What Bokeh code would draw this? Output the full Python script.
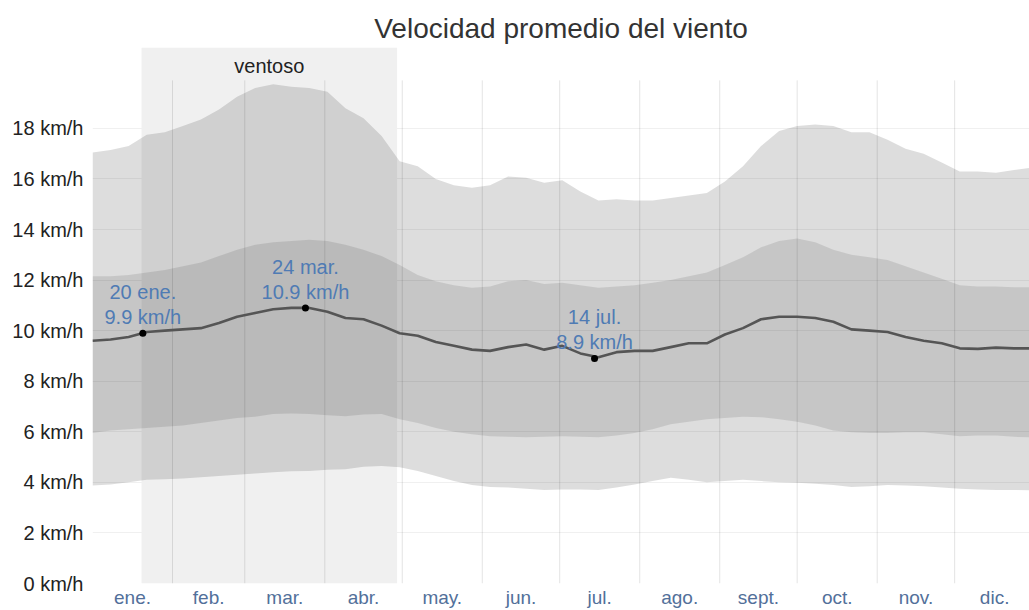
from bokeh.plotting import figure
from bokeh.models import (ColumnDataSource, FixedTicker, BoxAnnotation, Label, Range1d)
from bokeh.core.properties import value
from bokeh.embed import file_html
from bokeh.resources import INLINE

# ---------------- data ----------------
days = [0, 7, 14, 21, 28, 35, 42, 49, 56, 63, 70, 77, 84, 91, 98, 105, 112, 119,
        126, 133, 140, 147, 154, 161, 168, 175, 182, 189, 196, 203, 210, 217, 224,
        231, 238, 245, 252, 259, 266, 273, 280, 287, 294, 301, 308, 315, 322, 329,
        336, 343, 350, 357, 364]

p90 = [17.05, 17.15, 17.3, 17.75, 17.85, 18.1, 18.35, 18.75, 19.25, 19.6, 19.75,
       19.65, 19.6, 19.45, 18.8, 18.4, 17.7, 16.7, 16.5, 16.0, 15.75, 15.65, 15.75,
       16.1, 16.05, 15.85, 15.95, 15.5, 15.15, 15.2, 15.15, 15.15, 15.25, 15.35,
       15.45, 15.9, 16.5, 17.3, 17.9, 18.1, 18.15, 18.1, 17.85, 17.85, 17.55, 17.2,
       17.0, 16.65, 16.3, 16.3, 16.25, 16.35, 16.45]

p75 = [12.15, 12.15, 12.2, 12.3, 12.4, 12.55, 12.7, 12.95, 13.2, 13.4, 13.5, 13.55,
       13.6, 13.55, 13.4, 13.2, 12.95, 12.6, 12.2, 11.95, 11.8, 11.7, 11.75, 11.95,
       12.0, 11.85, 11.9, 11.8, 11.7, 11.75, 11.8, 11.9, 12.0, 12.15, 12.3, 12.6,
       12.9, 13.3, 13.55, 13.65, 13.5, 13.2, 13.0, 12.9, 12.8, 12.55, 12.3, 12.05,
       11.8, 11.75, 11.75, 11.72, 11.72]

mean = [9.6, 9.65, 9.75, 9.95, 10.0, 10.05, 10.1, 10.3, 10.55, 10.7, 10.85, 10.9,
        10.9, 10.75, 10.5, 10.45, 10.2, 9.9, 9.8, 9.55, 9.4, 9.25, 9.2, 9.35, 9.45,
        9.25, 9.4, 9.1, 8.95, 9.15, 9.2, 9.2, 9.35, 9.5, 9.5, 9.85, 10.1, 10.45,
        10.55, 10.55, 10.5, 10.35, 10.05, 10.0, 9.95, 9.75, 9.6, 9.5, 9.3, 9.28,
        9.33, 9.3, 9.3]

p25 = [5.95, 6.05, 6.1, 6.15, 6.2, 6.25, 6.35, 6.45, 6.55, 6.6, 6.7, 6.72, 6.7,
       6.65, 6.62, 6.68, 6.7, 6.5, 6.35, 6.15, 6.0, 5.9, 5.82, 5.8, 5.78, 5.8,
       5.82, 5.8, 5.78, 5.85, 5.95, 6.1, 6.3, 6.4, 6.5, 6.55, 6.6, 6.58, 6.5, 6.4,
       6.25, 6.05, 5.98, 5.95, 5.95, 5.98, 5.98, 5.9, 5.82, 5.85, 5.85, 5.8, 5.78]

p10 = [3.88, 3.92, 4.0, 4.1, 4.12, 4.15, 4.2, 4.25, 4.3, 4.35, 4.4, 4.44, 4.45,
       4.5, 4.52, 4.62, 4.65, 4.6, 4.45, 4.25, 4.05, 3.9, 3.82, 3.8, 3.75, 3.7,
       3.72, 3.72, 3.7, 3.8, 3.92, 4.05, 4.18, 4.1, 4.0, 4.05, 4.1, 4.05, 4.0,
       3.98, 3.95, 3.9, 3.82, 3.85, 3.9, 3.88, 3.85, 3.8, 3.75, 3.72, 3.7, 3.7, 3.68]

month_labels = ["ene.", "feb.", "mar.", "abr.", "may.", "jun.", "jul.", "ago.",
                "sept.", "oct.", "nov.", "dic."]
month_starts = [0, 31, 59, 90, 120, 151, 181, 212, 243, 273, 304, 334, 365]

y_ticks = [0, 2, 4, 6, 8, 10, 12, 14, 16, 18]
y_tick_labels = ["0 km/h", "2 km/h", "4 km/h", "6 km/h", "8 km/h", "10 km/h",
                 "12 km/h", "14 km/h", "16 km/h", "18 km/h"]

windy_start = 19    # 20 ene.
windy_end = 118     # 28 abr.
windy_label = "ventoso"

annot_dates = ["20 ene.", "24 mar.", "14 jul."]
annot_days = [19.5, 82.5, 194.5]
annot_values = [9.9, 10.9, 8.9]

title = "Velocidad promedio del viento"

# ---------------- figure ----------------
FONT = "Liberation Sans"

p = figure(width=1029, height=610, output_backend="svg", toolbar_location=None,
           x_range=Range1d(0, 363), y_range=Range1d(0, 21.2),
           min_border_left=92, min_border_right=0, min_border_top=47,
           min_border_bottom=27, title=title)
p.background_fill_color = "white"
p.border_fill_color = "white"
p.outline_line_color = None

p.title.text_font = FONT
p.title.text_font_size = "28px"
p.title.text_font_style = "normal"
p.title.text_color = "#333333"
p.title.align = "center"
p.title.vertical_align = "top"
p.title.standoff = 4

# windy season shading
p.add_layout(BoxAnnotation(left=windy_start, right=windy_end, fill_color="#f0f0f0",
                           fill_alpha=1.0, line_color=None, level="underlay"))
p.add_layout(Label(x=(windy_start + windy_end) / 2, y=20.45, text=windy_label,
                   text_align="center", text_baseline="middle",
                   text_font=FONT, text_font_size="20px", text_color="#222222"))

# bands
src = ColumnDataSource(dict(x=days, p10=p10, p25=p25, mean=mean, p75=p75, p90=p90))
p.varea(x="x", y1="p10", y2="p90", source=src, fill_color="black", fill_alpha=0.135)
p.varea(x="x", y1="p25", y2="p75", source=src, fill_color="black", fill_alpha=0.10)

# month boundary lines
bounds = month_starts[1:-1]
p.segment(x0=bounds, x1=bounds, y0=[0] * len(bounds), y1=[19.9] * len(bounds),
          line_color="black", line_alpha=0.11, line_width=1)

# mean line
p.line(x="x", y="mean", source=src, line_color="#555555", line_width=2.6)

# annotated points
asrc = ColumnDataSource(dict(
    x=annot_days, y=annot_values,
    text=[f"{d}\n{v} km/h" for d, v in zip(annot_dates, annot_values)]))
p.scatter(x="x", y="y", source=asrc, size=7, fill_color="black", line_color=None)
p.text(x="x", y="y", text="text", source=asrc, text_align="center",
       text_baseline="bottom", y_offset=-5, text_font=value(FONT),
       text_font_size="20px", text_color="#4f7bb4", text_line_height=1.15)

# axes
p.xaxis.ticker = FixedTicker(ticks=[(a + b) / 2 for a, b in zip(month_starts[:-1], month_starts[1:])])
p.xaxis.major_label_overrides = {(a + b) / 2: m for a, b, m in
                                 zip(month_starts[:-1], month_starts[1:], month_labels)}
p.yaxis.ticker = FixedTicker(ticks=y_ticks)
p.yaxis.major_label_overrides = {t: l for t, l in zip(y_ticks, y_tick_labels)}

for ax in (p.xaxis, p.yaxis):
    ax.axis_line_color = None
    ax.major_tick_line_color = None
    ax.minor_tick_line_color = None
    ax.major_tick_out = 0
    ax.major_tick_in = 0
    ax.major_label_text_font = FONT
p.xaxis.major_label_text_font_size = "19px"
p.xaxis.major_label_text_color = "#52709a"
p.xaxis.major_label_standoff = 3
p.yaxis.major_label_text_font_size = "20px"
p.yaxis.major_label_text_color = "#222222"
p.yaxis.major_label_standoff = 9

p.xgrid.grid_line_color = None
p.ygrid.grid_line_color = "black"
p.ygrid.grid_line_alpha = 0.06

open("out.html", "w").write(file_html(p, INLINE))
